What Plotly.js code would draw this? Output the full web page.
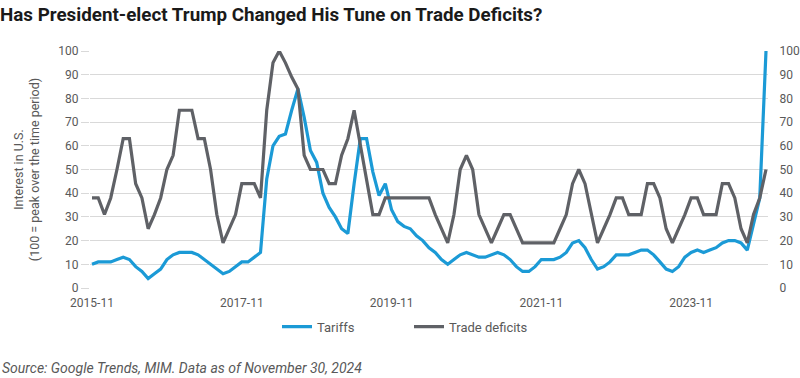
<!DOCTYPE html>
<html>
<head>
<meta charset="utf-8">
<script src="https://cdn.plot.ly/plotly-3.0.1.min.js"></script>
<style>html,body{margin:0;padding:0;background:#fff;}#chart{width:800px;height:378px;}</style>
</head>
<body>
<div id="chart"></div>
<script>
// Monthly categories: 2015-11 .. 2024-11
const startYear = 2015, startMonth = 11, nMonths = 109;
const months = [];
for (let k = 0; k < nMonths; k++) {
  const m0 = startMonth - 1 + k;
  const y = startYear + Math.floor(m0 / 12);
  const m = (m0 % 12) + 1;
  months.push(y + '-' + (m < 10 ? '0' + m : '' + m));
}
const tickLabels = ['2015-11', '2017-11', '2019-11', '2021-11', '2023-11'];

const tariffs = [10,11,11,11,12,13,12,9,7,4,6,8,12,14,15,15,15,14,12,10,8,6,7,9,11,11,13,15,
  46,60,64,65,75,84,72,58,53,40,34,30,25,23,44,63,63,49,39,44,33,28,26,25,22,20,17,15,12,10,
  12,14,15,14,13,13,14,15,14,12,9,7,7,9,12,12,12,13,15,19,20,17,12,8,9,11,14,14,14,15,16,16,
  14,11,8,7,9,13,15,16,15,16,17,19,20,20,19,16,27,38,100];

const tradeDeficits = [38,38,31,38,50,63,63,44,38,25,31,38,50,56,75,75,75,63,63,50,31,19,25,31,
  44,44,44,38,75,95,100,95,89,84,56,50,50,50,44,44,56,63,75,60,46,31,31,38,38,38,38,38,38,38,
  38,31,25,19,31,50,56,50,31,25,19,25,31,31,25,19,19,19,19,19,19,25,31,44,50,44,31,19,25,31,
  38,38,31,31,31,44,44,38,25,19,25,31,38,38,31,31,31,44,44,38,25,19,31,38,50];

const seriesNames = ['Tariffs', 'Trade deficits'];
const colors = ['#1b9ad6', '#5f6166'];

const FONT = 'Roboto, "Liberation Sans", sans-serif';
const plotL = 90, plotR = 768, plotT = 51, plotB = 288.3;
const plotW = plotR - plotL, plotH = plotB - plotT;

const traces = [
  {x: months, y: tariffs, name: seriesNames[0], type: 'scatter', mode: 'lines',
   line: {color: colors[0], width: 3.2}, yaxis: 'y', hoverinfo: 'x+y'},
  {x: months, y: tradeDeficits, name: seriesNames[1], type: 'scatter', mode: 'lines',
   line: {color: colors[1], width: 3.2}, yaxis: 'y2', hoverinfo: 'x+y'}
];

const layout = {
  width: 800, height: 378,
  margin: {l: plotL, r: 800 - plotR, t: plotT, b: 378 - plotB},
  paper_bgcolor: '#fff', plot_bgcolor: '#fff',
  font: {family: FONT, size: 12, color: '#595959'},
  title: {text: 'Has President-elect Trump Changed His Tune on Trade Deficits?',
    font: {family: FONT, size: 18.8, color: '#1a1a1a', weight: 700},
    x: 0, xref: 'container', xanchor: 'left', y: 1 - 14 / 378, yref: 'container', yanchor: 'middle'},
  xaxis: {type: 'category', range: [-0.32, nMonths - 1 + 0.32],
    tickmode: 'array', tickvals: tickLabels, ticktext: tickLabels,
    showgrid: false, zeroline: false, showline: false,
    ticks: 'outside', ticklen: 4, tickcolor: 'rgba(0,0,0,0)',
    tickfont: {size: 12, color: '#595959'}},
  yaxis: {range: [0, 100], dtick: 10, tick0: 0, showgrid: true, gridcolor: '#d9d9d9', gridwidth: 1,
    zeroline: false, showline: false, ticks: 'outside', ticklen: 8, tickcolor: '#d9d9d9',
    tickfont: {size: 12, color: '#595959'},
    title: {text: 'Interest in U.S.<br>(100 = peak over the time period)', font: {size: 12.5, color: '#595959'}, standoff: 15}},
  yaxis2: {range: [0, 100], dtick: 10, tick0: 0, overlaying: 'y', side: 'right', showgrid: false,
    zeroline: false, showline: false, ticks: 'outside', ticklen: 8, tickcolor: 'rgba(0,0,0,0)',
    tickfont: {size: 12, color: '#595959'}},
  showlegend: true,
  legend: {orientation: 'h', x: (277 - plotL) / plotW, xanchor: 'left',
    y: (plotB - 327) / plotH, yanchor: 'middle', entrywidth: 87, entrywidthmode: 'pixels',
    font: {size: 13, color: '#595959'}, bgcolor: 'rgba(0,0,0,0)', traceorder: 'normal'},
  annotations: [{text: '<i>Source: Google Trends, MIM. Data as of November 30, 2024</i>',
    xref: 'paper', yref: 'paper', x: -plotL / plotW, xanchor: 'left',
    y: (plotB - 368) / plotH, yanchor: 'middle', showarrow: false,
    font: {size: 14, color: '#595959'}}]
};

Plotly.newPlot('chart', traces, layout, {displayModeBar: false, staticPlot: true});
</script>
</body>
</html>
